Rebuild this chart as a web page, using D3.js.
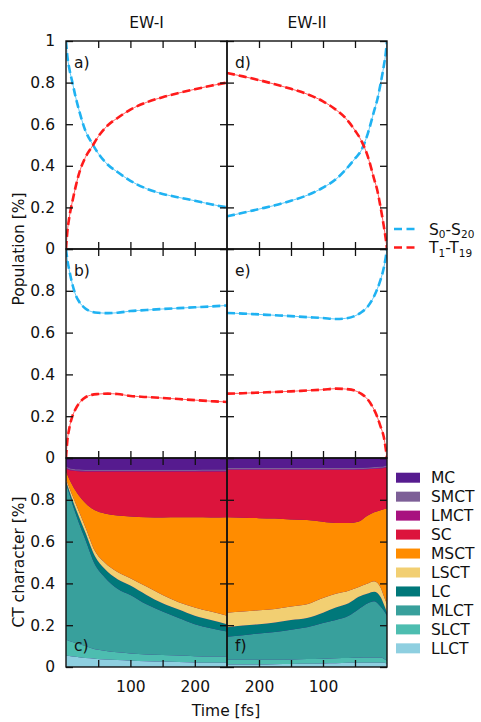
<!DOCTYPE html>
<html>
<head>
<meta charset="utf-8">
<script src="https://cdn.jsdelivr.net/npm/d3@7"></script>
<style>
  body { margin: 0; background: #fff; }
  svg { display: block; font-family: "DejaVu Sans", sans-serif; }
</style>
</head>
<body>
<svg id="chart" width="481" height="722"></svg>
<script>

// ---- data ----

// population time grid (fs)
const tPop = [0, 2, 5, 10, 15, 20, 30, 40, 50, 65, 80, 100, 125, 150, 175, 200, 225, 250]

// a) EW-I
const popA_S = [1.0, 0.93, 0.87, 0.8, 0.73, 0.67, 0.57, 0.51, 0.46, 0.405, 0.37, 0.328, 0.29, 0.265, 0.248, 0.232, 0.215, 0.2]
const popA_T = [0, 0.08, 0.15, 0.23, 0.3, 0.36, 0.44, 0.49, 0.54, 0.595, 0.63, 0.67, 0.705, 0.73, 0.75, 0.768, 0.785, 0.8]
// b) EW-I
const popB_S = [1.0, 0.95, 0.9, 0.83, 0.78, 0.75, 0.715, 0.7, 0.695, 0.693, 0.695, 0.703, 0.708, 0.713, 0.717, 0.721, 0.725, 0.73]
const popB_T = [0, 0.08, 0.14, 0.2, 0.235, 0.26, 0.29, 0.302, 0.306, 0.308, 0.306, 0.297, 0.292, 0.287, 0.282, 0.277, 0.272, 0.268]
// d) EW-II
const popD_S = [1.0, 0.94, 0.88, 0.795, 0.72, 0.665, 0.555, 0.475, 0.435, 0.38, 0.335, 0.295, 0.258, 0.232, 0.21, 0.192, 0.174, 0.157]
const popD_T = [0, 0.05, 0.11, 0.2, 0.28, 0.335, 0.445, 0.52, 0.57, 0.63, 0.67, 0.71, 0.745, 0.77, 0.792, 0.812, 0.83, 0.846]
// e) EW-II
const popE_S = [1.0, 0.96, 0.91, 0.853, 0.81, 0.775, 0.725, 0.697, 0.68, 0.668, 0.665, 0.67, 0.674, 0.679, 0.683, 0.687, 0.691, 0.694]
const popE_T = [0, 0.045, 0.1, 0.15, 0.195, 0.23, 0.28, 0.307, 0.322, 0.33, 0.332, 0.327, 0.323, 0.319, 0.316, 0.313, 0.31, 0.308]

// CT character time grid (fs)
const tCT = [0, 5, 10, 20, 30, 45, 60, 80, 100, 125, 150, 175, 200, 225, 250]

// legend order (top to bottom) and colours
const ctKeys = ["MC", "SMCT", "LMCT", "SC", "MSCT", "LSCT", "LC", "MLCT", "SLCT", "LLCT"]
const ctColors = ["#561b8f", "#7d5f97", "#a8127f", "#dc143c", "#ff8c00", "#f2cf72", "#00787a", "#38a09c", "#4dbdb0", "#8ecfe0"]

// c) EW-I
const ctI_LLCT = [0.055, 0.053, 0.05, 0.047, 0.043, 0.04, 0.036, 0.033, 0.03, 0.028, 0.026, 0.024, 0.022, 0.02, 0.02]
const ctI_SLCT = [0.075, 0.072, 0.07, 0.063, 0.057, 0.045, 0.042, 0.037, 0.035, 0.032, 0.032, 0.031, 0.03, 0.03, 0.03]
const ctI_MLCT = [0.75, 0.705, 0.66, 0.58, 0.51, 0.405, 0.352, 0.305, 0.28, 0.24, 0.207, 0.18, 0.153, 0.135, 0.12]
const ctI_LC   = [0.01, 0.015, 0.02, 0.03, 0.035, 0.04, 0.04, 0.045, 0.045, 0.045, 0.04, 0.04, 0.04, 0.04, 0.035]
const ctI_LSCT = [0.01, 0.015, 0.02, 0.025, 0.025, 0.025, 0.03, 0.035, 0.035, 0.04, 0.04, 0.035, 0.04, 0.04, 0.04]
const ctI_MSCT = [0.035, 0.04, 0.05, 0.075, 0.115, 0.195, 0.235, 0.27, 0.295, 0.331, 0.37, 0.406, 0.431, 0.45, 0.471]
const ctI_SC   = [0.015, 0.043, 0.07, 0.117, 0.15, 0.185, 0.2, 0.21, 0.215, 0.219, 0.22, 0.219, 0.219, 0.221, 0.22]
const ctI_LMCT = [0.003, 0.003, 0.003, 0.003, 0.003, 0.003, 0.003, 0.003, 0.003, 0.003, 0.003, 0.003, 0.003, 0.003, 0.003]
const ctI_SMCT = [0.006, 0.006, 0.006, 0.006, 0.006, 0.006, 0.006, 0.006, 0.006, 0.006, 0.006, 0.006, 0.006, 0.006, 0.006]
const ctI_MC   = [0.041, 0.048, 0.051, 0.054, 0.056, 0.056, 0.056, 0.056, 0.056, 0.056, 0.056, 0.056, 0.056, 0.055, 0.055]

// f) EW-II
const ctII_LLCT = [0.015, 0.02, 0.02, 0.02, 0.02, 0.02, 0.02, 0.018, 0.017, 0.015, 0.014, 0.013, 0.012, 0.012, 0.012]
const ctII_SLCT = [0.015, 0.02, 0.025, 0.025, 0.025, 0.024, 0.023, 0.024, 0.023, 0.023, 0.022, 0.022, 0.023, 0.023, 0.023]
const ctII_MLCT = [0.215, 0.23, 0.245, 0.27, 0.26, 0.231, 0.202, 0.183, 0.17, 0.152, 0.142, 0.132, 0.125, 0.117, 0.11]
const ctII_LC   = [0.015, 0.03, 0.045, 0.045, 0.047, 0.06, 0.06, 0.06, 0.05, 0.045, 0.047, 0.046, 0.045, 0.046, 0.045]
const ctII_LSCT = [0.04, 0.04, 0.045, 0.05, 0.048, 0.047, 0.06, 0.065, 0.07, 0.065, 0.065, 0.065, 0.067, 0.067, 0.07]
const ctII_MSCT = [0.46, 0.415, 0.37, 0.33, 0.325, 0.313, 0.324, 0.339, 0.365, 0.403, 0.416, 0.432, 0.44, 0.449, 0.456]
const ctII_SC   = [0.195, 0.197, 0.2, 0.208, 0.221, 0.249, 0.254, 0.254, 0.248, 0.24, 0.237, 0.233, 0.231, 0.229, 0.227]
const ctII_LMCT = [0.003, 0.003, 0.003, 0.003, 0.003, 0.003, 0.003, 0.003, 0.003, 0.003, 0.003, 0.003, 0.003, 0.003, 0.003]
const ctII_SMCT = [0.006, 0.006, 0.006, 0.006, 0.006, 0.006, 0.006, 0.006, 0.006, 0.006, 0.006, 0.006, 0.006, 0.006, 0.006]
const ctII_MC   = [0.036, 0.039, 0.041, 0.043, 0.045, 0.047, 0.048, 0.048, 0.048, 0.048, 0.048, 0.048, 0.048, 0.048, 0.048]

const yTicks = [0, 0.2, 0.4, 0.6, 0.8, 1]
const xTicks = [50, 100, 150, 200]
const xLabels = [100, 200]


//visualisation

const svg = d3.select("#chart")
const FONT = 15.5
const blue = "#1fb2f2", red = "#ff1a1a"

// scales: left column runs 0 -> 250, right column runs back 250 -> 0
const xI = d3.scaleLinear().domain([0, 250]).range([66, 227])
const xII = d3.scaleLinear().domain([250, 0]).range([227, 387])
const yA = d3.scaleLinear().domain([0, 1]).range([249, 41])
const yB = d3.scaleLinear().domain([0, 1]).range([458, 249])
const yC = d3.scaleLinear().domain([0, 1]).range([667, 458])

let clipId = 0
function clipFor(x, y) {
  const id = "clip" + (clipId++)
  svg.append("clipPath").attr("id", id).append("rect")
    .attr("x", Math.min(...x.range())).attr("y", y(1))
    .attr("width", Math.abs(x.range()[1] - x.range()[0]))
    .attr("height", y(0) - y(1))
  return "url(#" + id + ")"
}

// population curves: thin solid + thick dashed on top
function drawPop(x, y, vals, color) {
  const pts = tPop.map((t, i) => [x(t), y(vals[i])]).sort((a, b) => a[0] - b[0])
  const line = d3.line().curve(d3.curveMonotoneX)
  const g = svg.append("g").attr("clip-path", clipFor(x, y))
  g.append("path").attr("d", line(pts))
    .attr("fill", "none").attr("stroke", color).attr("stroke-opacity", 0.7).attr("stroke-width", 1)
  g.append("path").attr("d", line(pts))
    .attr("fill", "none").attr("stroke", color).attr("stroke-width", 2.6)
    .attr("stroke-dasharray", "8,4")
}

drawPop(xI, yA, popA_S, blue)
drawPop(xI, yA, popA_T, red)
drawPop(xI, yB, popB_S, blue)
drawPop(xI, yB, popB_T, red)
drawPop(xII, yA, popD_S, blue)
drawPop(xII, yA, popD_T, red)
drawPop(xII, yB, popE_S, blue)
drawPop(xII, yB, popE_T, red)

// stacked CT character areas
const stackKeys = ctKeys.slice().reverse()   // LLCT at the bottom
const colorOf = d3.scaleOrdinal().domain(ctKeys).range(ctColors)

function drawCT(x, y, table) {
  let rows = tCT.map((t, i) => {
    const r = { t: t }
    stackKeys.forEach(k => r[k] = table[k][i])
    return r
  })
  rows.sort((a, b) => x(a.t) - x(b.t))
  const series = d3.stack().keys(stackKeys)(rows)
  const area = d3.area()
    .x(d => x(d.data.t))
    .y0(d => y(d[0]))
    .y1(d => y(d[1]))
    .curve(d3.curveMonotoneX)
  const g = svg.append("g").attr("clip-path", clipFor(x, y))
  // purple background fills anything above the top layer
  g.append("rect").attr("x", Math.min(...x.range())).attr("y", y(1))
    .attr("width", 161).attr("height", y(0) - y(1)).attr("fill", colorOf("MC"))
  g.selectAll("path").data(series).enter().append("path")
    .attr("d", area)
    .attr("fill", d => colorOf(d.key))
}

drawCT(xI, yC, {
  LLCT: ctI_LLCT, SLCT: ctI_SLCT, MLCT: ctI_MLCT, LC: ctI_LC, LSCT: ctI_LSCT,
  MSCT: ctI_MSCT, SC: ctI_SC, LMCT: ctI_LMCT, SMCT: ctI_SMCT, MC: ctI_MC
})
drawCT(xII, yC, {
  LLCT: ctII_LLCT, SLCT: ctII_SLCT, MLCT: ctII_MLCT, LC: ctII_LC, LSCT: ctII_LSCT,
  MSCT: ctII_MSCT, SC: ctII_SC, LMCT: ctII_LMCT, SMCT: ctII_SMCT, MC: ctII_MC
})

// axes, ticks pointing inward on every side
const fmtY = d3.format("~g")

function styleAxis(g) {
  g.select(".domain").remove()
  g.selectAll("line").attr("stroke", "#111").attr("stroke-width", 1.3)
  g.selectAll("text").attr("font-family", "DejaVu Sans").attr("font-size", FONT).attr("fill", "#111")
}

function drawAxes(x, y, showY, showTop1, showX) {
  const x0 = Math.min(...x.range()), x1 = Math.max(...x.range())
  svg.append("g").attr("transform", "translate(" + x0 + ",0)")
    .call(d3.axisLeft(y).tickValues(yTicks).tickSize(-7).tickPadding(11)
      .tickFormat(d => !showY ? "" : (d === 1 && !showTop1) ? "" : fmtY(d)))
    .call(styleAxis)
  svg.append("g").attr("transform", "translate(" + x1 + ",0)")
    .call(d3.axisRight(y).tickValues(yTicks).tickSize(-7).tickFormat(""))
    .call(styleAxis)
  svg.append("g").attr("transform", "translate(0," + y(1) + ")")
    .call(d3.axisTop(x).tickValues(xTicks).tickSize(-7).tickFormat(""))
    .call(styleAxis)
  svg.append("g").attr("transform", "translate(0," + y(0) + ")")
    .call(d3.axisBottom(x).tickValues(xTicks).tickSize(-7).tickPadding(14)
      .tickFormat(d => showX && xLabels.includes(d) ? d : ""))
    .call(styleAxis)
  svg.append("rect").attr("x", x0).attr("y", y(1))
    .attr("width", x1 - x0).attr("height", y(0) - y(1))
    .attr("fill", "none").attr("stroke", "#111").attr("stroke-width", 1.4)
}

drawAxes(xI, yA, true, true, false)
drawAxes(xI, yB, true, false, false)
drawAxes(xI, yC, true, false, true)
drawAxes(xII, yA, false, false, false)
drawAxes(xII, yB, false, false, false)
drawAxes(xII, yC, false, false, true)

// titles and panel letters
function txt(x, y, s, anchor) {
  return svg.append("text").attr("x", x).attr("y", y).text(s)
    .attr("font-size", FONT).attr("fill", "#111").attr("text-anchor", anchor || "start")
}
txt(146.5, 28, "EW-I", "middle")
txt(307, 28, "EW-II", "middle")
txt(74, 68, "a)")
txt(74, 276, "b)")
txt(74, 651, "c)")
txt(235, 68, "d)")
txt(235, 276, "e)")
txt(235, 651, "f)")
txt(226, 716, "Time [fs]", "middle")

svg.append("text").attr("transform", "translate(24,249) rotate(-90)")
  .attr("text-anchor", "middle").attr("font-size", FONT).attr("fill", "#111")
  .text("Population [%]")
svg.append("text").attr("transform", "translate(24,562) rotate(-90)")
  .attr("text-anchor", "middle").attr("font-size", FONT).attr("fill", "#111")
  .text("CT character [%]")

// legend for the population lines
const popLegend = [
  { color: blue, base: "S", a: "0", b: "S", c: "20", y: 229 },
  { color: red, base: "T", a: "1", b: "T", c: "19", y: 247.5 },
]
popLegend.forEach(d => {
  svg.append("line").attr("x1", 394).attr("x2", 416).attr("y1", d.y).attr("y2", d.y)
    .attr("stroke", d.color).attr("stroke-width", 2.6).attr("stroke-dasharray", "8,4.5")
  const t = svg.append("text").attr("x", 429).attr("y", d.y + 5.5)
    .attr("font-size", FONT).attr("fill", "#111")
  t.append("tspan").text(d.base)
  t.append("tspan").text(d.a).attr("font-size", 10.5).attr("dy", 3.5)
  t.append("tspan").text("-" + d.b).attr("dy", -3.5)
  t.append("tspan").text(d.c).attr("font-size", 10.5).attr("dy", 3.5)
})

// legend for CT character
const leg = svg.append("g").selectAll("g").data(ctKeys).enter().append("g")
  .attr("transform", (d, i) => "translate(396," + (477.7 + i * 18.96) + ")")
leg.append("rect").attr("x", 0).attr("y", -5).attr("width", 24).attr("height", 10)
  .attr("fill", d => colorOf(d))
leg.append("text").attr("x", 35).attr("y", 5.5).text(d => d)
  .attr("font-size", FONT).attr("fill", "#111")

</script>
</body>
</html>
